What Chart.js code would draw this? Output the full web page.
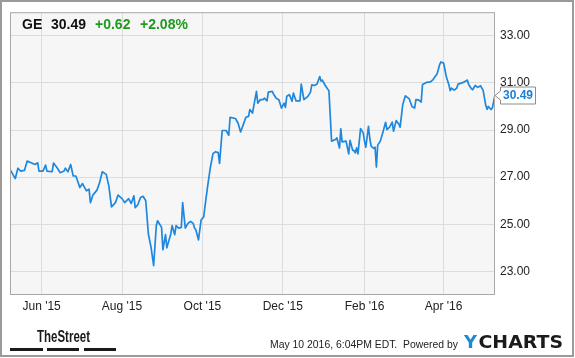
<!DOCTYPE html>
<html><head><meta charset="utf-8">
<script src="https://cdn.jsdelivr.net/npm/chart.js@4.4.1/dist/chart.umd.min.js"></script>
<style>html,body{margin:0;padding:0;background:#fff;}canvas{display:block;}</style>
</head><body>
<canvas id="c" width="575" height="358"></canvas>
<script>
const ticker = 'GE';
const changeAbs = '+0.62';
const changePct = '+2.08%';
const timestamp = 'May 10 2016, 6:04PM EDT.  Powered by';
const startDate = '2015-05-08';
// days since startDate
const days = [
  0,4,6,8,11,13,16,19,21,22,
  25,27,28,32,33,36,38,41,42,44,
  46,48,50,53,55,58,60,61,63,66,
  68,70,73,75,77,80,82,85,87,90,
  92,94,95,97,99,101,103,105,107,109,
  111,112,115,116,118,119,122,123,125,126,
  128,130,131,133,135,137,139,140,141,143,
  145,147,148,150,152,154,156,158,159,161,
  164,166,167,171,173,175,177,179,181,182,
  184,187,188,190,192,193,195,196,199,200,
  202,204,206,208,209,210,212,214,215,217,
  220,221,223,226,228,229,231,233,235,236,
  237,239,241,242,244,247,248,250,251,252,
  255,257,258,260,261,262,263,264,266,268,
  269,270,272,273,274,276,277,278,279,281,
  283,285,286,288,290,291,293,295,296,298,
  300,303,305,307,308,310,312,313,316,319,
  321,324,325,326,327,329,330,331,333,334,
  335,337,339,340,344,347,348,350,351,353,
  355,357,359,361,362,363,365,366,368
];
const prices = [
  27.33,26.94,27.38,27.26,27.29,27.68,27.61,27.54,27.61,27.26,
  27.26,27.51,27.26,27.23,27.60,27.38,27.19,27.26,27.38,27.23,
  27.54,27.05,27.05,26.56,26.73,26.42,26.49,25.92,26.25,26.45,
  26.77,27.23,27.12,26.63,25.74,25.92,26.24,26.09,25.92,26.09,
  25.88,26.21,25.71,25.83,26.14,26.19,26.00,24.59,24.03,23.25,
  24.94,25.15,24.87,23.92,24.56,24.00,24.59,24.94,24.56,24.94,
  24.84,24.87,25.92,24.84,25.04,25.12,25.04,24.84,24.77,24.34,
  25.18,25.32,25.78,26.63,27.40,28.00,28.08,28.04,27.58,28.98,
  28.98,28.78,29.54,29.49,29.30,28.92,29.23,29.54,29.58,29.87,
  29.72,30.64,30.14,30.29,30.29,30.35,30.24,30.61,30.64,30.52,
  30.35,30.29,29.93,30.14,29.96,30.43,30.50,30.22,30.57,30.24,
  30.24,30.95,30.29,30.43,30.61,30.92,30.89,30.95,31.27,31.08,
  31.12,30.91,30.74,30.67,28.53,28.60,28.67,28.24,29.05,28.50,
  28.53,27.99,28.56,28.14,28.14,28.03,28.24,27.99,29.06,28.88,
  28.53,28.27,29.16,28.64,28.32,28.22,28.27,27.43,28.36,28.53,
  28.92,29.33,29.02,29.12,29.34,28.95,29.40,29.26,29.12,30.08,
  30.45,30.32,30.00,29.93,30.29,30.28,30.19,30.93,31.02,31.04,
  31.14,31.38,31.57,31.78,31.89,31.84,31.57,31.27,30.92,30.67,
  30.78,30.69,30.78,30.95,31.02,31.12,30.93,30.76,30.71,30.89,
  30.81,30.88,30.68,30.05,29.88,30.00,29.87,29.94,30.49
];
const xTickDates = ['2015-06-01','2015-08-01','2015-10-01','2015-12-01','2016-02-01','2016-04-01'];
const xTickLabels = ["Jun '15","Aug '15","Oct '15","Dec '15","Feb '16","Apr '16"];
const yTicks = [23,25,27,29,31,33];

const DAY = 86400000;
const dayOf = s => Math.round((Date.parse(s) - Date.parse(startDate)) / DAY);
const xTickDays = xTickDates.map(dayOf);
const FONT = '"Liberation Sans", Arial, sans-serif';
const lastValue = prices[prices.length - 1];

function fitText(ctx, text, x, y, w) {
  const m = ctx.measureText(text).width;
  ctx.save(); ctx.translate(x, y); ctx.scale(w / m, 1); ctx.fillText(text, 0, 0); ctx.restore();
}

const deco = {
  id: 'deco',
  beforeDraw(chart) {
    const { ctx, chartArea: a } = chart;
    ctx.save();
    ctx.fillStyle = '#ffffff';
    ctx.fillRect(0, 0, chart.width, chart.height);
    ctx.fillStyle = '#f6f6f6';
    ctx.fillRect(a.left, a.top, a.right - a.left, a.bottom - a.top);
    ctx.restore();
  },
  afterDraw(chart) {
    const { ctx, chartArea: a } = chart;
    ctx.save();
    // plot border
    ctx.strokeStyle = '#a8a8a8'; ctx.lineWidth = 1;
    ctx.strokeRect(a.left + 0.5, a.top + 0.5, a.right - a.left - 1, a.bottom - a.top - 1);
    // header
    ctx.textBaseline = 'alphabetic'; ctx.textAlign = 'left';
    ctx.font = 'bold 14px ' + FONT;
    ctx.fillStyle = '#111';
    ctx.fillText(ticker, 22, 29);
    ctx.fillText(lastValue.toFixed(2), 51, 29);
    ctx.fillStyle = '#1f9a1f';
    ctx.fillText(changeAbs, 95, 29);
    ctx.fillText(changePct, 140, 29);
    // last value tag
    const y = Math.round(chart.scales.y.getPixelForValue(lastValue)) + 0.5;
    const x0 = a.right;
    ctx.beginPath();
    ctx.moveTo(x0, y);
    ctx.lineTo(x0 + 5.5, y - 4.5);
    ctx.lineTo(x0 + 5.5, y - 8.5);
    ctx.lineTo(x0 + 40.5, y - 8.5);
    ctx.lineTo(x0 + 40.5, y + 8.5);
    ctx.lineTo(x0 + 5.5, y + 8.5);
    ctx.lineTo(x0 + 5.5, y + 4.5);
    ctx.closePath();
    ctx.fillStyle = '#fff'; ctx.fill();
    ctx.strokeStyle = '#8c8c8c'; ctx.lineWidth = 1; ctx.stroke();
    ctx.font = 'bold 12px ' + FONT;
    ctx.fillStyle = '#1a7fd8'; ctx.textAlign = 'center'; ctx.textBaseline = 'middle';
    ctx.fillText(lastValue.toFixed(2), x0 + 23, y + 0.5);
    // footer
    ctx.textAlign = 'left'; ctx.textBaseline = 'alphabetic';
    ctx.fillStyle = '#1a1a1a';
    ctx.font = 'bold 17px ' + FONT;
    fitText(ctx, 'TheStreet', 37, 342, 53);
    ctx.fillRect(10, 348, 33, 3);
    ctx.fillRect(47, 348, 32, 3);
    ctx.fillRect(84, 348, 32, 3);
    ctx.fillStyle = '#222';
    ctx.font = '11px ' + FONT;
    fitText(ctx, timestamp, 270, 348, 188);
    ctx.font = 'bold 18px "DejaVu Sans", sans-serif';
    ctx.fillStyle = '#1a8ad4';
    fitText(ctx, 'Y', 464, 348, 13);
    ctx.fillStyle = '#1b1b1b';
    fitText(ctx, 'CHARTS', 478.5, 348, 84.5);
    // outer border
    ctx.strokeStyle = '#9a9a9a'; ctx.lineWidth = 2;
    ctx.strokeRect(1, 1, 572, 355);
    ctx.restore();
  }
};

new Chart(document.getElementById('c'), {
  type: 'line',
  data: {
    datasets: [{
      data: days.map((d, i) => ({ x: d, y: prices[i] })),
      borderColor: '#1f87dc',
      borderWidth: 1.7,
      pointRadius: 0,
      tension: 0,
      borderJoinStyle: 'round',
      fill: false
    }]
  },
  options: {
    responsive: false,
    animation: false,
    devicePixelRatio: 1,
    layout: { padding: { left: 10, top: 10, right: 0, bottom: 0 } },
    plugins: { legend: { display: false }, tooltip: { enabled: false } },
    scales: {
      x: {
        type: 'linear', min: 0, max: days[days.length - 1],
        afterBuildTicks: s => { s.ticks = xTickDays.map(v => ({ value: v })); },
        afterFit: s => { s.height = 63; },
        ticks: { callback: (v, i) => xTickLabels[i], color: '#222', font: { family: FONT, size: 12 }, padding: 4, maxRotation: 0, autoSkip: false },
        grid: { color: '#dcdcdc', lineWidth: 1, drawTicks: false },
        border: { display: false }
      },
      y: {
        position: 'right', min: 22, max: 34,
        afterBuildTicks: s => { s.ticks = yTicks.map(v => ({ value: v })); },
        afterFit: s => { s.width = 80; },
        ticks: { callback: v => Number(v).toFixed(2), color: '#222', font: { family: FONT, size: 12 }, padding: 5 },
        grid: { color: '#dcdcdc', lineWidth: 1, drawTicks: false },
        border: { display: false }
      }
    }
  },
  plugins: [deco]
});
</script>
</body></html>
